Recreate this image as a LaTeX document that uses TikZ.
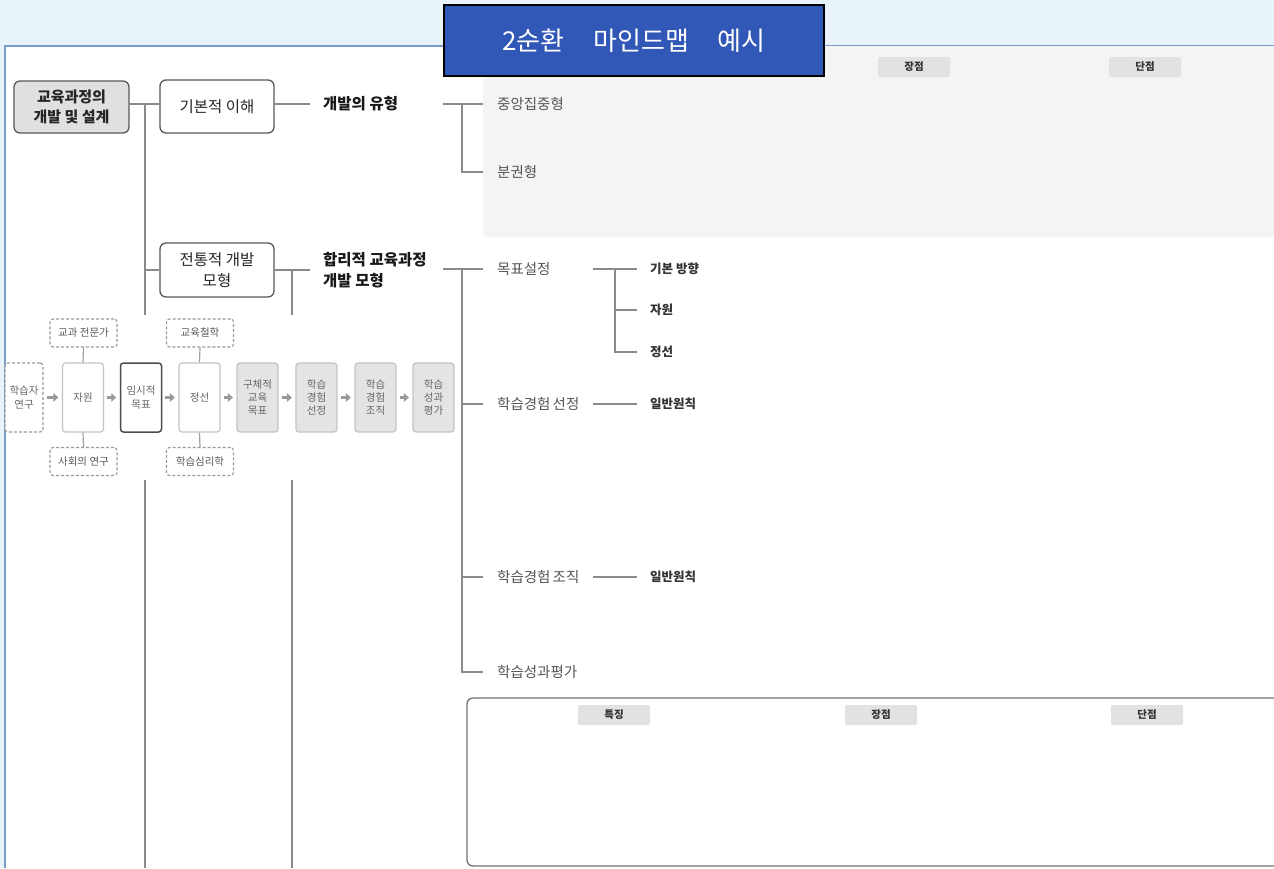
\documentclass[tikz,border=0pt]{standalone}
\usepackage{fontspec}
\setmainfont{Noto Sans CJK KR}
\usetikzlibrary{arrows.meta}
\definecolor{bgblue}{HTML}{E8F3FA}
\definecolor{frameblue}{HTML}{7B9CC9}
\definecolor{titleblue}{HTML}{3157B7}
\definecolor{linegray}{HTML}{8A8A8A}
\definecolor{panelgray}{HTML}{F4F4F4}
\definecolor{hdrgray}{HTML}{E2E2E2}
\definecolor{flowgray}{HTML}{E4E4E4}
\definecolor{flowline}{HTML}{C4C4C4}
\definecolor{txtgray}{HTML}{555555}
\begin{document}
\begin{tikzpicture}[x=1pt,y=-1pt,
  conn/.style={draw=linegray,line width=1.3pt},
  fconn/.style={draw=linegray!80,line width=1.2pt},
  farrow/.style={draw=black!40,line width=3.2pt,-{Triangle[length=5pt,width=8.5pt]},shorten <=3pt,shorten >=3.5pt},
  mainbox/.style={draw=black!65,line width=1.3pt,rounded corners=6pt,align=center,inner sep=0pt,
     minimum width=114pt,font=\fontsize{15.5}{21}\selectfont,text=black!85},
  bold/.style={font=\fontsize{15.5}{21}\selectfont\bfseries,text=black!90,align=left,anchor=west,inner xsep=13pt,inner ysep=0pt},
  leaf/.style={font=\fontsize{14.5}{16}\selectfont,text=txtgray,anchor=west,inner xsep=14pt,inner ysep=0pt},
  subleaf/.style={font=\fontsize{12.5}{14}\selectfont\bfseries,text=black!80,anchor=west,inner xsep=13pt,inner ysep=0pt},
  hdr/.style={fill=hdrgray,rounded corners=2pt,minimum width=72pt,minimum height=20pt,inner sep=0pt,
     font=\fontsize{10.5}{11}\selectfont\bfseries,text=black!80},
  fbox/.style={draw=flowline,line width=1.2pt,rounded corners=3pt,minimum width=41pt,minimum height=69pt,
     inner sep=0pt,align=center,font=\fontsize{10.5}{13.3}\selectfont,text=black!60,fill=white},
  gbox/.style={fbox,fill=flowgray},
  dbox/.style={draw=black!40,dashed,dash pattern=on 3pt off 2pt,line width=1.1pt,rounded corners=3pt,
     minimum width=67pt,minimum height=28pt,inner sep=0pt,font=\fontsize{10.5}{11}\selectfont,text=black!65,fill=white}
]
\useasboundingbox (0,0) rectangle (1274,868);
% background
\fill[bgblue] (0,0) rectangle (1274,868);
\fill[white] (5,46) rectangle (1274,868);
\draw[frameblue,line width=1.2pt] (5,868) -- (5,46) -- (1274,46);
% top gray panel
\begin{scope}
  \clip (0,46) rectangle (1274,868);
  \fill[panelgray,rounded corners=6pt] (483,20) rectangle (1300,237);
\end{scope}
\node[hdr] (h1) at (914,67) {장점};
\node[hdr] (h2) at (1145,67) {단점};

% bottom box
\draw[draw=black!55,line width=1.3pt,rounded corners=6pt] (1290,698) -- (467,698) -- (467,866) -- (1290,866);
\node[hdr] (b1) at (614,715) {특징};
\node[hdr] (b2) at (881,715) {장점};
\node[hdr] (b3) at (1147,715) {단점};

% main nodes
\node[mainbox,fill=black!12,minimum width=115pt,minimum height=52pt,font=\fontsize{15}{20.5}\selectfont\bfseries] (root) at (71.5,107) {교육과정의\\개발 및 설계};
\node[mainbox,minimum height=53pt] (kib) at (217,106.5) {기본적 이해};
\node[mainbox,minimum height=54pt] (trad) at (217,270) {전통적 개발\\모형};

% trunks
\coordinate (t1) at (145,104);
\coordinate (t1end) at (145,868);
\coordinate (t2) at (292,270);
\coordinate (t2end) at (292,868);
\draw[conn] (root.east |- t1) -- (kib.west |- t1);
\draw[conn] (t1) -- (t1end);
\draw[conn] (trad.west -| t1) -- (trad.west);
\draw[conn] (t2) -- (t2end);

% 개발의 유형 branch
\node[bold] (dev) at (310,104) {개발의 유형};
\draw[conn] (kib.east |- dev.west) -- (dev.west);
\coordinate (d1) at (443,104);
\coordinate (j1) at (462,104);
\node[leaf] (cent) at (483,104) {중앙집중형};
\node[leaf] (decn) at (483,172) {분권형};
\draw[conn] (d1) -- (cent.west);
\draw[conn] (j1) |- (decn.west);

% 합리적 교육과정 개발 모형 branch
\node[bold] (rat) at (310,270) {합리적 교육과정\\개발 모형};
\draw[conn] (trad.east) -- (rat.west);
\coordinate (d2) at (443,269);
\coordinate (j2) at (462,269);
\node[leaf] (goal) at (483,269) {목표설정};
\node[leaf] (sel) at (483,404) {학습경험\hspace{0.15em}선정};
\node[leaf] (org) at (483,577) {학습경험\hspace{0.15em}조직};
\node[leaf] (eval) at (483,672) {학습성과평가};
\draw[conn] (d2) -- (goal.west);
\draw[conn] (j2) |- (sel.west);
\draw[conn] (j2) |- (org.west);
\draw[conn] (j2) |- (eval.west);

% 목표설정 children
\coordinate (g1) at (593,269);
\coordinate (gj) at (615,269);
\node[subleaf] (dir) at (637,269) {기본 방향};
\node[subleaf] (src) at (637,310) {자원};
\node[subleaf] (scr) at (637,352) {정선};
\draw[conn] (g1) -- (dir.west);
\draw[conn] (gj) |- (src.west);
\draw[conn] (gj) |- (scr.west);

\coordinate (s1) at (593,404);
\node[subleaf] (pr1) at (637,404) {일반원칙};
\draw[conn] (s1) -- (pr1.west);
\coordinate (o1) at (593,577);
\node[subleaf] (pr2) at (637,577) {일반원칙};
\draw[conn] (o1) -- (pr2.west);

% flow chart (white background hides trunks)
\fill[white] (6,315) rectangle (458,480);
\node[fbox,dashed,dash pattern=on 3pt off 2pt,draw=black!40,minimum width=38pt] (lr) at (24,397.5) {학습자\\연구};
\node[fbox] (res) at (83,397.5) {자원};
\node[fbox,draw=black!70,line width=1.5pt] (tmp) at (141,397.5) {임시적\\목표};
\node[fbox] (jsel) at (199.5,397.5) {정선};
\node[gbox] (spec) at (257.5,397.5) {구체적\\교육\\목표};
\node[gbox] (ls) at (316.5,397.5) {학습\\경험\\선정};
\node[gbox] (lo) at (375.5,397.5) {학습\\경험\\조직};
\node[gbox] (le) at (433.5,397.5) {학습\\성과\\평가};
\node[dbox] (exp) at (83.5,333) {교과 전문가};
\node[dbox] (soc) at (83.5,461.5) {사회의 연구};
\node[dbox] (phil) at (200,333) {교육철학};
\node[dbox] (psy) at (200,461.5) {학습심리학};
\draw[fconn] (exp.south) -- (res.north);
\draw[fconn] (soc.north) -- (res.south);
\draw[fconn] (phil.south) -- (jsel.north);
\draw[fconn] (psy.north) -- (jsel.south);
\draw[farrow] (lr.east) -- (res.west);
\draw[farrow] (res.east) -- (tmp.west);
\draw[farrow] (tmp.east) -- (jsel.west);
\draw[farrow] (jsel.east) -- (spec.west);
\draw[farrow] (spec.east) -- (ls.west);
\draw[farrow] (ls.east) -- (lo.west);
\draw[farrow] (lo.east) -- (le.west);

% title
\node[draw=black,line width=1.2pt,fill=titleblue,minimum width=380pt,minimum height=71pt,text=white,
  font=\fontsize{26}{28}\selectfont] (title) at (634,40.5) {2순환\hspace{1.1em}마인드맵\hspace{1.1em}예시};
\end{tikzpicture}
\end{document}
